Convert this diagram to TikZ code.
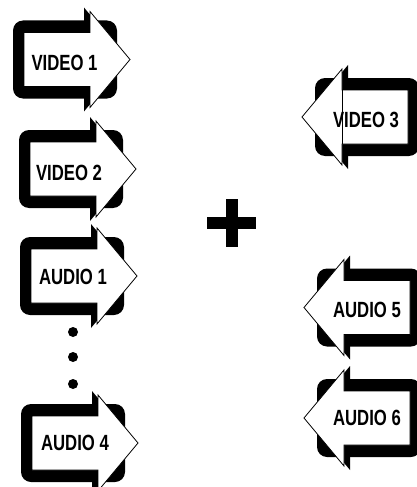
\documentclass[tikz,border=0pt]{standalone}
\usepackage{fontspec}
\newfontfamily\lblfont[FakeStretch=0.76]{Liberation Sans}
\usetikzlibrary{positioning}

\tikzset{
  lbl/.style={font=\lblfont\bfseries\fontsize{22}{22}\selectfont, inner sep=0pt},
  fwdicon/.pic={
    \fill[rounded corners=10pt] (-77,-39) rectangle (27,39);
    \fill (-6,-52) -- (37,0) -- (-6,52) -- cycle;
    \filldraw[fill=white, line width=0.8pt] (-66,-27) -- (0,-27) -- (0,-48) -- (40,0) -- (0,48) -- (0,27) -- (-66,27) -- cycle;
  },
  revicon/.pic={
    \pic[transform shape] {fwdicon};
    \draw[line width=0.6pt] (0,-27) -- (0,27);
  },
}

\begin{document}
\begin{tikzpicture}[x=1pt, y=-1pt]
  \useasboundingbox (0,0) rectangle (416,487);

  % left column
  \pic at (90,59.5) {fwdicon};
  \node[lbl] (v1) at (64.5,63) {VIDEO 1};

  \pic at (96,169) {fwdicon};
  \node[lbl] (v2) at (69,172.5) {VIDEO 2};

  \pic at (97,276) {fwdicon};
  \node[lbl] (a1) at (73,277) {AUDIO 1};

  \foreach \y in {332,357,384}
    \fill (73,\y) circle (5);

  \pic at (98,443) {fwdicon};
  \node[lbl] (a4) at (75,443) {AUDIO 4};

  % plus
  \fill (226,199) rectangle (238,247);
  \fill (207,217) rectangle (256,229);

  % right column
  \pic[xscale=-1, transform shape] at (342,117) {revicon};
  \node[lbl] (v3) at (366,119.5) {VIDEO 3};

  \foreach \y in {307.5,418}
    \pic[xscale=-1, transform shape] at (344,\y) {fwdicon};
  \node[lbl] (a5) at (367,309.5) {AUDIO 5};
  \node[lbl] (a6) at (367,418) {AUDIO 6};

\end{tikzpicture}
\end{document}
